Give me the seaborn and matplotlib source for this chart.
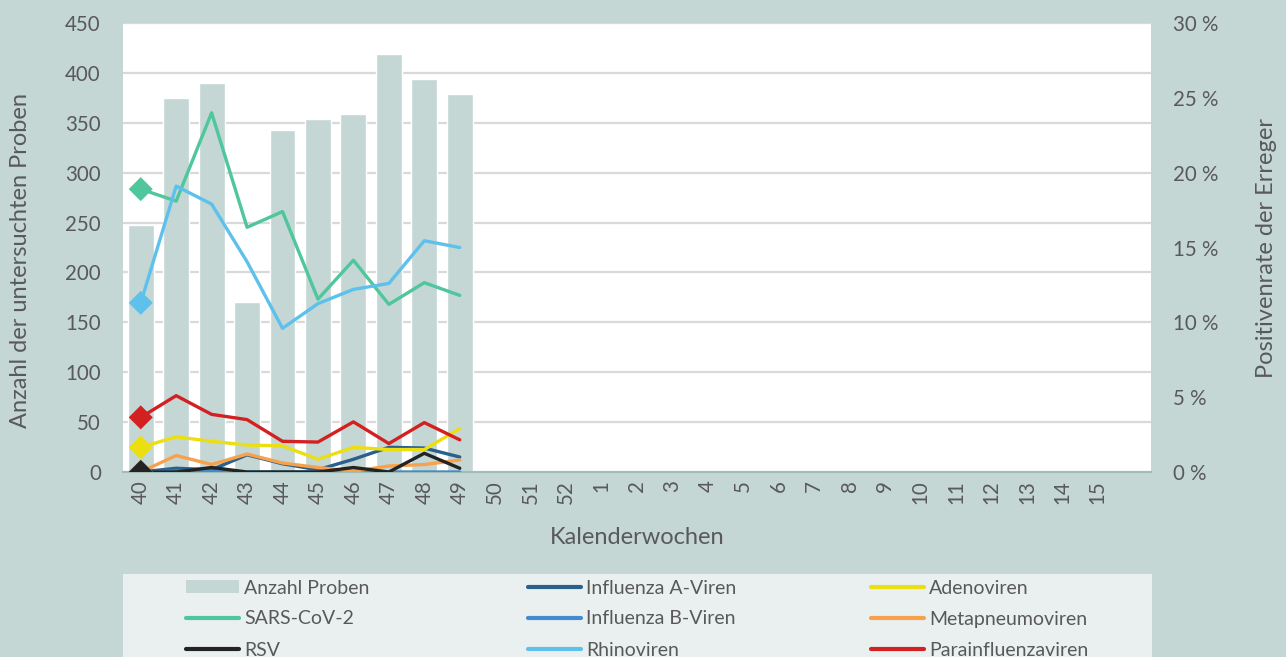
import numpy as np
import pandas as pd
import matplotlib
matplotlib.use("Agg")
import matplotlib.pyplot as plt
from matplotlib.patches import Patch, Rectangle
from matplotlib.lines import Line2D
from matplotlib.ticker import FuncFormatter
import seaborn as sns

# Kalenderwochen (letzte Kategorie ohne Beschriftung)
weeks = [str(w) for w in range(40, 53)] + [str(w) for w in range(1, 16)] + [""]

# Anzahl untersuchter Proben je KW 40-49
proben = [248, 375, 390, 170, 343, 354, 359, 419, 394, 379]

# Positivenraten in %
infl_a = [0.0, 0.25, 0.15, 1.15, 0.55, 0.15, 0.85, 1.65, 1.6, 1.0]
adeno = [1.65, 2.35, 2.05, 1.8, 1.75, 0.85, 1.65, 1.5, 1.5, 2.9]
sars = [18.9, 18.1, 24.0, 16.35, 17.4, 11.55, 14.15, 11.2, 12.65, 11.8]
infl_b = [0.0, 0.05, 0.05, 0.0, 0.0, 0.0, 0.0, 0.0, 0.0, 0.0]
metap = [0.0, 1.1, 0.5, 1.2, 0.6, 0.3, 0.05, 0.4, 0.5, 0.8]
rsv = [0.0, 0.0, 0.3, 0.0, 0.0, 0.0, 0.3, 0.0, 1.25, 0.25]
rhino = [11.3, 19.1, 17.9, 14.05, 9.6, 11.25, 12.2, 12.6, 15.45, 15.0]
para = [3.65, 5.1, 3.85, 3.5, 2.05, 2.0, 3.35, 1.9, 3.3, 2.15]

series_names = ["Influenza A-Viren", "Adenoviren", "SARS-CoV-2", "Influenza B-Viren",
                "Metapneumoviren", "RSV", "Rhinoviren", "Parainfluenzaviren"]
series_vals = [infl_a, adeno, sars, infl_b, metap, rsv, rhino, para]
colors = {"Influenza A-Viren": "#2b5f8c", "Adenoviren": "#ebdf12", "SARS-CoV-2": "#4fc69b",
          "Influenza B-Viren": "#428bd0", "Metapneumoviren": "#f8a14c", "RSV": "#232323",
          "Rhinoviren": "#5dc1ec", "Parainfluenzaviren": "#d32121"}

bg = "#c4d7d5"
txt = "#595959"

sns.set_style("white")
plt.rcParams["font.family"] = ["Lato", "DejaVu Sans"]

df_bars = pd.DataFrame({"KW": weeks, "Proben": proben + [np.nan] * (len(weeks) - len(proben))})
rows = []
for name, vals in zip(series_names, series_vals):
    for i, v in enumerate(vals):
        rows.append({"pos": i, "rate": v, "Erreger": name})
df_lines = pd.DataFrame(rows)

W, H = 1286, 657
fig = plt.figure(figsize=(W / 100, H / 100), dpi=100, facecolor=bg)
ax = fig.add_axes([123 / W, 1 - 472 / H, (1151 - 123) / W, (472 - 23) / H])
ax.set_facecolor("white")

sns.barplot(data=df_bars, x="KW", y="Proben", order=weeks, color=bg, width=0.73,
            saturation=1, errorbar=None, ax=ax)
ax.set_xlim(-0.5, len(weeks) - 0.5)
ax.set_ylim(0, 450)
ax.set_yticks(range(0, 451, 50))
ax.yaxis.grid(True, color="#d9d9d9", linewidth=1.6)
ax.set_axisbelow(True)
for s in ["left", "right", "top"]:
    ax.spines[s].set_visible(False)
ax.spines["bottom"].set_color("#9fbeb9")
ax.spines["bottom"].set_linewidth(1.5)
ax.tick_params(axis="y", length=0, pad=16, labelsize=14.8, labelcolor=txt)
ax.tick_params(axis="x", length=0, pad=6, labelsize=14.8, labelcolor=txt, rotation=90)
ax.set_xlabel("Kalenderwochen", fontsize=17, color=txt)
ax.set_ylabel("Anzahl der untersuchten Proben", fontsize=17, color=txt)
ax.xaxis.set_label_coords(0.5, -0.1225)
ax.yaxis.set_label_coords(-0.0895, 0.47)

ax2 = ax.twinx()
sns.lineplot(data=df_lines, x="pos", y="rate", hue="Erreger", hue_order=series_names,
             palette=colors, linewidth=2.4, sort=False, legend=False, ax=ax2)
first = df_lines[df_lines["pos"] == 0]
sns.scatterplot(data=first, x="pos", y="rate", hue="Erreger", hue_order=series_names,
                palette=colors, marker="D", s=150, linewidth=0, legend=False, ax=ax2, zorder=5)
ax2.set_ylim(0, 30)
ax2.set_yticks(range(0, 31, 5))
ax2.yaxis.set_major_formatter(FuncFormatter(lambda v, p: f"{v:.0f} %"))
ax2.set_xlim(-0.5, len(weeks) - 0.5)
for s in ax2.spines.values():
    s.set_visible(False)
ax2.tick_params(axis="y", length=0, pad=16, labelsize=14.8, labelcolor=txt)
ax2.set_xlabel("")
ax2.set_ylabel("Positivenrate der Erreger", fontsize=17, color=txt)
ax2.yaxis.set_label_coords(1.102, 0.5)

# Legendenfeld
fig.patches.append(Rectangle((123 / W, 0), (1152 - 123) / W, (H - 574) / H,
                             transform=fig.transFigure, facecolor="#e9f0ef",
                             edgecolor="none", zorder=0))

def handle(name):
    return Line2D([], [], color=colors[name], linewidth=3)

columns = [
    ([Patch(facecolor=bg, edgecolor="none"), handle("SARS-CoV-2"), handle("RSV")],
     ["Anzahl Proben", "SARS-CoV-2", "RSV"], 186),
    ([handle("Influenza A-Viren"), handle("Influenza B-Viren"), handle("Rhinoviren")],
     ["Influenza A-Viren", "Influenza B-Viren", "Rhinoviren"], 528),
    ([handle("Adenoviren"), handle("Metapneumoviren"), handle("Parainfluenzaviren")],
     ["Adenoviren", "Metapneumoviren", "Parainfluenzaviren"], 871),
]
for hs, ls, x0 in columns:
    fig.legend(hs, ls, loc="center left", bbox_to_anchor=(x0 / W, 1 - 619 / H),
               frameon=False, fontsize=14, labelcolor=txt, handlelength=2.75,
               handleheight=0.6, handletextpad=0.25, labelspacing=0.72,
               borderpad=0, borderaxespad=0)

fig.savefig("out.png", dpi=100, facecolor=bg)
